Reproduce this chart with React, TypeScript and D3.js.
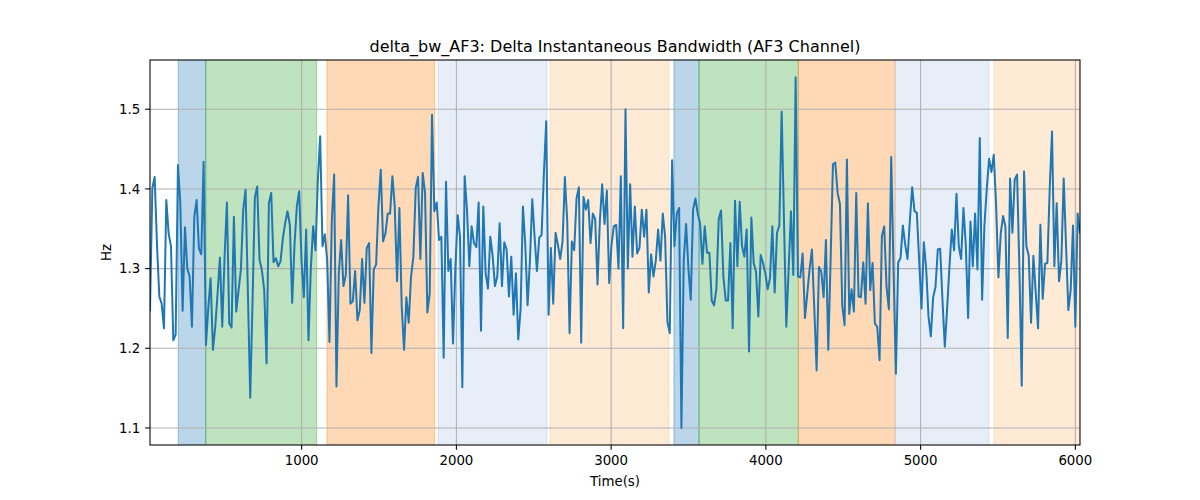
import React from 'react';
import * as d3 from 'd3';

const title = 'delta_bw_AF3: Delta Instantaneous Bandwidth (AF3 Channel)';
const xLabel = 'Time(s)';
const yLabel = 'Hz';
const xTicks = [1000, 2000, 3000, 4000, 5000, 6000];
const yTicks = [1.1, 1.2, 1.3, 1.4, 1.5];
const tStart = 20;
const tEnd = 6030;
const xDomain = [20, 6030];
const yDomain = [1.0786, 1.5618];

const bandwidth = [
  1.248, 1.401, 1.415, 1.33, 1.265, 1.256, 1.225, 1.386, 1.344, 1.328, 1.210, 1.217, 1.430, 1.382, 1.247, 1.352, 1.300, 1.290, 1.227, 1.365,
  1.386, 1.325, 1.318, 1.434, 1.204, 1.25, 1.288, 1.198, 1.227, 1.269, 1.314, 1.227, 1.315, 1.383, 1.231, 1.226, 1.365, 1.246, 1.273, 1.299,
  1.374, 1.399, 1.27, 1.138, 1.26, 1.390, 1.403, 1.311, 1.298, 1.273, 1.181, 1.382, 1.395, 1.308, 1.313, 1.303, 1.309, 1.338, 1.357, 1.372,
  1.355, 1.257, 1.33, 1.378, 1.397, 1.31, 1.264,
  1.349, 1.210, 1.30, 1.353, 1.323, 1.41, 1.466, 1.328, 1.343, 1.311, 1.208, 1.36, 1.418, 1.152, 1.294, 1.336, 1.278, 1.292, 1.392, 1.256,
  1.259, 1.297, 1.235, 1.248, 1.312, 1.257, 1.326, 1.332, 1.194, 1.299, 1.305, 1.378, 1.424, 1.334, 1.344, 1.369, 1.369, 1.416, 1.378, 1.284,
  1.376, 1.252, 1.198, 1.264, 1.232, 1.290, 1.315, 1.401, 1.415, 1.312, 1.420, 1.395, 1.245, 1.269, 1.493, 1.372, 1.383, 1.336, 1.340, 1.188,
  1.409, 1.297, 1.312, 1.206, 1.30, 1.367,
  1.34, 1.151, 1.416, 1.374, 1.303, 1.353, 1.332, 1.327, 1.383, 1.222, 1.378, 1.294, 1.275, 1.340, 1.316, 1.278, 1.290, 1.357, 1.278, 1.333,
  1.324, 1.265, 1.315, 1.242, 1.294, 1.211, 1.249, 1.378, 1.33, 1.254, 1.31, 1.387, 1.34, 1.297, 1.339, 1.342, 1.42, 1.485, 1.242, 1.326,
  1.256, 1.345, 1.330, 1.312, 1.334, 1.415, 1.36, 1.219, 1.334, 1.323, 1.388, 1.402, 1.207, 1.390, 1.374, 1.386, 1.332, 1.369, 1.362, 1.280,
  1.36, 1.406, 1.356, 1.398, 1.282, 1.33, 1.353,
  1.355, 1.300, 1.416, 1.225, 1.500, 1.300, 1.406, 1.315, 1.378, 1.319, 1.326, 1.374, 1.340, 1.374, 1.270, 1.318, 1.290, 1.31, 1.349, 1.310,
  1.369, 1.340, 1.233, 1.219, 1.436, 1.328, 1.369, 1.376, 1.100, 1.311, 1.356, 1.30, 1.261, 1.374, 1.388, 1.369, 1.357, 1.306, 1.353, 1.320,
  1.320, 1.260, 1.254, 1.275, 1.362, 1.373, 1.29, 1.260, 1.260, 1.332, 1.225, 1.385, 1.303, 1.384, 1.328, 1.315, 1.349, 1.196, 1.364, 1.307,
  1.296, 1.240, 1.317, 1.307, 1.294, 1.274, 1.288,
  1.353, 1.270, 1.345, 1.354, 1.497, 1.36, 1.227, 1.30, 1.372, 1.292, 1.540, 1.290, 1.289, 1.319, 1.238, 1.269, 1.30, 1.324, 1.25, 1.172,
  1.302, 1.296, 1.264, 1.336, 1.198, 1.31, 1.431, 1.433, 1.395, 1.381, 1.254, 1.229, 1.437, 1.243, 1.274, 1.246, 1.395, 1.265, 1.264, 1.308,
  1.256, 1.382, 1.273, 1.307, 1.231, 1.227, 1.185, 1.341, 1.353, 1.277, 1.249, 1.440, 1.30, 1.168, 1.308, 1.313, 1.354, 1.330, 1.312, 1.36,
  1.402, 1.372, 1.370, 1.31, 1.250, 1.333,
  1.30, 1.24, 1.215, 1.264, 1.277, 1.324, 1.325, 1.26, 1.202, 1.25, 1.303, 1.349, 1.323, 1.394, 1.328, 1.312, 1.376, 1.33, 1.238, 1.359,
  1.303, 1.369, 1.299, 1.464, 1.261, 1.355, 1.40, 1.438, 1.421, 1.443, 1.38, 1.289, 1.344, 1.366, 1.353, 1.213, 1.413, 1.345, 1.412, 1.418,
  1.30, 1.153, 1.422, 1.328, 1.316, 1.232, 1.316, 1.27, 1.225, 1.355, 1.262, 1.306, 1.307, 1.40, 1.472, 1.303, 1.382, 1.284, 1.31, 1.413,
  1.33, 1.248, 1.273, 1.354, 1.227, 1.369, 1.345,
];

const spanStarts = [203, 380, 1164, 1881, 2605, 3406, 3568, 4210, 4836, 5474];
const spanEnds = [380, 1097, 1860, 2586, 3374, 3568, 4210, 4836, 5442, 6080];
const spanColors = ['#1f77b4', '#2ca02c', '#ff7f0e', '#aec7e8', '#ffbb78', '#1f77b4', '#2ca02c', '#ff7f0e', '#aec7e8', '#ffbb78'];

const W = 1200;
const H = 500;
const M = { left: 150, right: 1080, top: 60, bottom: 445 };
const FONT = 'DejaVu Sans, sans-serif';

export default function App() {
  const x = d3.scaleLinear().domain(xDomain).range([M.left, M.right]);
  const y = d3.scaleLinear().domain(yDomain).range([M.bottom, M.top]);
  const n = bandwidth.length;
  const times = bandwidth.map((_, i) => tStart + (i * (tEnd - tStart)) / (n - 1));
  const pts: [number, number][] = bandwidth.map((v, i) => [times[i], v]);
  const line = d3
    .line<[number, number]>()
    .x((d) => x(d[0]))
    .y((d) => y(d[1]));

  return (
    <svg
      width={W}
      height={H}
      style={{ position: 'absolute', left: 0, top: 0, background: '#fff' }}
      fontFamily={FONT}
    >
      <defs>
        <clipPath id="plotclip">
          <rect x={M.left} y={M.top} width={M.right - M.left} height={M.bottom - M.top} />
        </clipPath>
      </defs>
      <rect x={0} y={0} width={W} height={H} fill="#fff" />
      <g clipPath="url(#plotclip)">
        {spanStarts.map((s, i) => (
          <rect
            key={i}
            x={x(s)}
            y={M.top - 2}
            width={x(spanEnds[i]) - x(s)}
            height={M.bottom - M.top + 4}
            fill={spanColors[i]}
            fillOpacity={0.3}
            stroke={spanColors[i]}
            strokeOpacity={0.3}
            strokeWidth={1.33}
          />
        ))}
        {xTicks.map((t) => (
          <line key={'gx' + t} x1={x(t)} x2={x(t)} y1={M.top} y2={M.bottom} stroke="#b0b0b0" strokeWidth={1.07} />
        ))}
        {yTicks.map((t) => (
          <line key={'gy' + t} x1={M.left} x2={M.right} y1={y(t)} y2={y(t)} stroke="#b0b0b0" strokeWidth={1.07} />
        ))}
        <path d={line(pts) || ''} fill="none" stroke="#1f77b4" strokeWidth={2} strokeLinejoin="round" strokeLinecap="square" />
      </g>
      <rect
        x={M.left}
        y={M.top}
        width={M.right - M.left}
        height={M.bottom - M.top}
        fill="none"
        stroke="#000"
        strokeWidth={1.07}
      />
      {xTicks.map((t) => (
        <g key={'tx' + t}>
          <line x1={x(t)} x2={x(t)} y1={M.bottom} y2={M.bottom + 4.86} stroke="#000" strokeWidth={1.07} />
          <text x={x(t)} y={M.bottom + 9.7} dy="0.76em" textAnchor="middle" fontSize={13.33} fill="#000">
            {t}
          </text>
        </g>
      ))}
      {yTicks.map((t) => (
        <g key={'ty' + t}>
          <line x1={M.left - 4.86} x2={M.left} y1={y(t)} y2={y(t)} stroke="#000" strokeWidth={1.07} />
          <text x={M.left - 9.7} y={y(t)} dy="0.35em" textAnchor="end" fontSize={13.33} fill="#000">
            {t.toFixed(1)}
          </text>
        </g>
      ))}
      <text x={(M.left + M.right) / 2} y={M.top - 8} textAnchor="middle" fontSize={16} fill="#000">
        {title}
      </text>
      <text x={(M.left + M.right) / 2} y={486} textAnchor="middle" fontSize={13.33} fill="#000">
        {xLabel}
      </text>
      <text
        transform={`translate(${111},${(M.top + M.bottom) / 2}) rotate(-90)`}
        textAnchor="middle"
        fontSize={13.33}
        fill="#000"
      >
        {yLabel}
      </text>
    </svg>
  );
}
